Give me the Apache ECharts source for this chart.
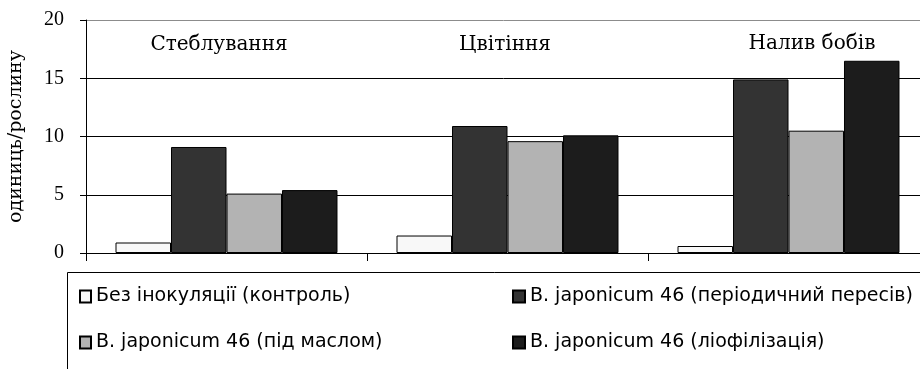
<!DOCTYPE html>
<html>
<head>
<meta charset="utf-8">
<script src="https://cdn.jsdelivr.net/npm/echarts@6/dist/echarts.min.js"></script>
<style>
  html, body { margin: 0; padding: 0; background: #ffffff; }
  #chart { width: 920px; height: 369px; }
</style>
</head>
<body>
<div id="chart"></div>
<script>
// Фази розвитку рослин
const stages = ['Стеблування', 'Цвітіння', 'Налив бобів'];

// Назви варіантів
const seriesNames = [
  'Без інокуляції (контроль)',
  'B. japonicum 46 (періодичний пересів)',
  'B. japonicum 46 (під маслом)',
  'B. japonicum 46 (ліофілізація)'
];

// Кількість бульбочок, одиниць/рослину
const control = [0.9, 1.5, 0.6];
const periodic = [9.1, 10.9, 14.9];
const underOil = [5.1, 9.6, 10.5];
const lyophil = [5.4, 10.1, 16.5];

const yTicks = [0, 5, 10, 15, 20];
const yAxisTitle = 'одиниць/рослину';

const fills = ['#f8f8f8', '#333333', '#b3b3b3', '#1c1c1c'];
const values = [control, periodic, underOil, lyophil];

const chart = echarts.init(document.getElementById('chart'), null, { renderer: 'canvas' });

const serifFont = '"DejaVu Serif", "Liberation Serif", serif';
const sansFont = '"DejaVu Sans", "Liberation Sans", Arial, sans-serif';

const legendText = { color: '#000', fontFamily: sansFont, fontSize: 19, lineHeight: 19 };

// Область побудови виходить за правий край полотна
chart.setOption({
  animation: false,
  backgroundColor: '#ffffff',
  grid: { left: 86, top: 20, width: 843, bottom: 116, containLabel: false, outerBoundsMode: 'none' },
  xAxis: {
    type: 'category',
    data: stages,
    boundaryGap: true,
    axisLine: { show: true, lineStyle: { color: '#000', width: 1 } },
    axisTick: { show: true, length: 8, lineStyle: { color: '#000' } },
    axisLabel: { show: false },
    splitLine: { show: false },
    z: 10
  },
  yAxis: {
    type: 'value',
    min: yTicks[0],
    max: yTicks[yTicks.length - 1],
    interval: yTicks[1] - yTicks[0],
    name: yAxisTitle,
    nameLocation: 'middle',
    nameGap: 60,
    nameTextStyle: { color: '#000', fontFamily: serifFont, fontSize: 19 },
    axisLine: { show: true, lineStyle: { color: '#000', width: 1 } },
    axisTick: { show: true, length: 6, lineStyle: { color: '#000' } },
    axisLabel: { color: '#000', fontFamily: '"Liberation Serif", serif', fontSize: 20, margin: 22 },
    splitLine: { show: true, lineStyle: { color: ['#000', '#000', '#000', '#000', '#8c8c8c'], width: 1 } }
  },
  legend: [
    {
      data: [seriesNames[0], seriesNames[2]],
      orient: 'vertical',
      left: 79, top: 287,
      icon: 'rect',
      itemWidth: 11, itemHeight: 12, itemGap: 27, itemTextGap: 3,
      padding: 0,
      textStyle: legendText,
      selectedMode: false
    },
    {
      data: [seriesNames[1], seriesNames[3]],
      orient: 'vertical',
      left: 512, top: 287,
      icon: 'rect',
      itemWidth: 12, itemHeight: 12, itemGap: 27, itemTextGap: 3,
      padding: 0,
      textStyle: legendText,
      selectedMode: false
    }
  ],
  graphic: [
    {
      type: 'rect', silent: true, z: 0,
      shape: { x: 67.5, y: 272.5, width: 900, height: 140 },
      style: { fill: 'none', stroke: '#000', lineWidth: 1 }
    },
    {
      type: 'text', silent: true, x: 219, y: 45,
      style: { text: stages[0], fill: '#000', font: '20px ' + serifFont, align: 'center', verticalAlign: 'middle' }
    },
    {
      type: 'text', silent: true, x: 505, y: 45,
      style: { text: stages[1], fill: '#000', font: '20px ' + serifFont, align: 'center', verticalAlign: 'middle' }
    },
    {
      type: 'text', silent: true, x: 812, y: 44,
      style: { text: stages[2], fill: '#000', font: '20px ' + serifFont, align: 'center', verticalAlign: 'middle' }
    }
  ],
  series: seriesNames.map((name, i) => ({
    name: name,
    type: 'bar',
    data: values[i],
    barGap: '0%',
    barCategoryGap: '21%',
    itemStyle: { color: fills[i], borderColor: '#000', borderWidth: 1 },
    emphasis: { disabled: true }
  }))
});
</script>
</body>
</html>
